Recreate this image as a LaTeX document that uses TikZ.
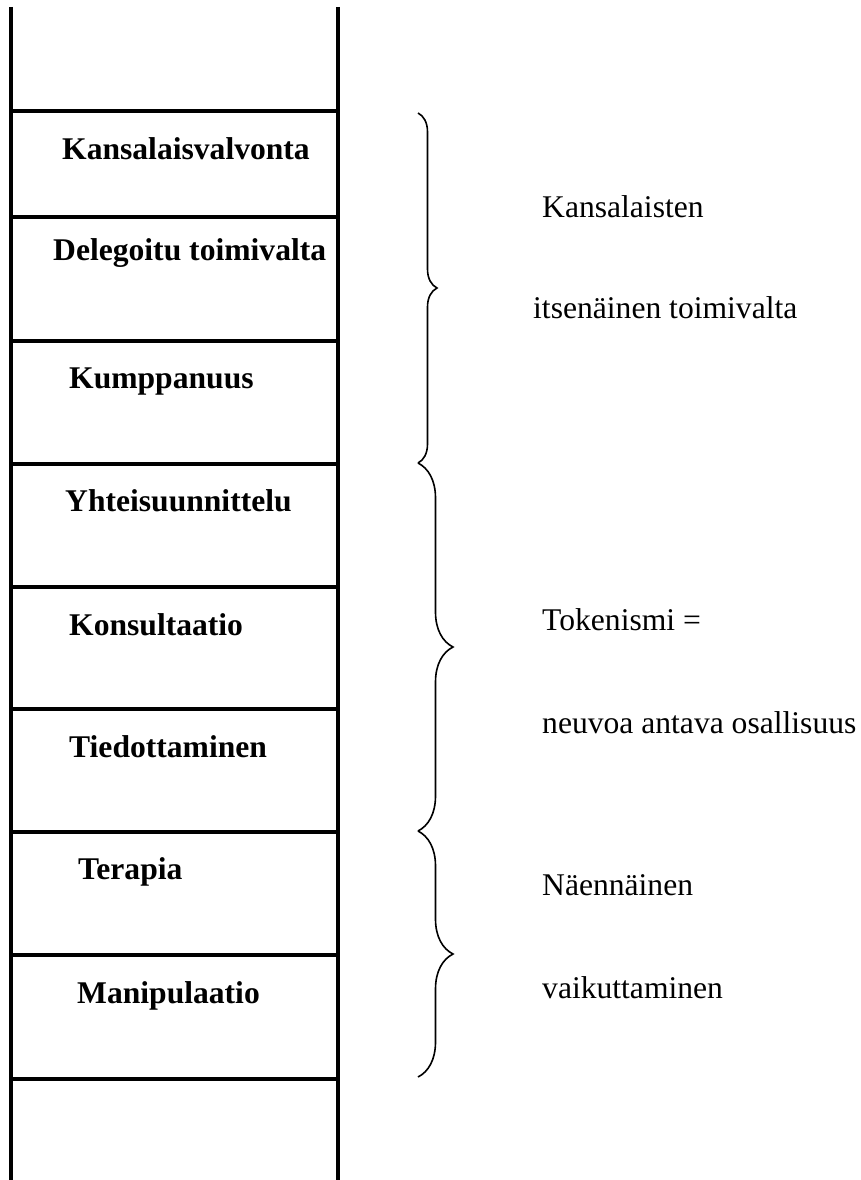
\documentclass[tikz,border=0pt]{standalone}
\usepackage{fontspec}
\setmainfont{Liberation Serif}
\usepackage{tikz}
\usetikzlibrary{decorations.pathreplacing}

\begin{document}
\begin{tikzpicture}[x=1pt,y=-1pt,
		rail/.style={line width=4pt},
		stage/.style={anchor=base west,inner sep=0pt,font=\fontsize{31.6}{38}\selectfont\bfseries},
		note/.style={anchor=base west,inner sep=0pt,font=\fontsize{31.6}{38}\selectfont},
		bracket/.style={decorate,decoration={brace,amplitude=#1},line width=1.6pt}]
		\useasboundingbox (0,0) rectangle (861,1180);
		% ladder
		\draw [rail] (11,7) -- (11,1180)
			  (338,7) -- (338,1180);
		\foreach \y in {111,217,341,464,587,709,832,955,1079}
			\draw [rail] (11,\y) -- (338,\y);
		% steps
		\node [stage] (kv) at (62,160) {Kansalaisvalvonta};
		\node [stage] (dt) at (53,260) {Delegoitu toimivalta};
		\node [stage] (ku) at (69,388) {Kumppanuus};
		\node [stage] (yh) at (65,511) {Yhteisuunnittelu};
		\node [stage] (ko) at (69,635) {Konsultaatio};
		\node [stage] (ti) at (69,757) {Tiedottaminen};
		\node [stage] (te) at (78,879) {Terapia};
		\node [stage] (ma) at (77,1003) {Manipulaatio};
		% groups
		\coordinate (b0) at (418,113);
		\coordinate (b1) at (418,463);
		\coordinate (b2) at (418,831);
		\coordinate (b3) at (418,1077);
		\draw [bracket=19pt] (b0) -- (b1);
		\draw [bracket=35pt] (b1) -- (b2);
		\draw [bracket=35pt] (b2) -- (b3);
		\node [note] (g1a) at (542,217) {Kansalaisten};
		\node [note] (g1b) at (533,318) {itsenäinen toimivalta};
		\node [note] (g2a) at (542,630) {Tokenismi =};
		\node [note] (g2b) at (542,733) {neuvoa antava osallisuus};
		\node [note] (g3a) at (542,895) {Näennäinen};
		\node [note] (g3b) at (542,998) {vaikuttaminen};
	\end{tikzpicture}
\end{document}
